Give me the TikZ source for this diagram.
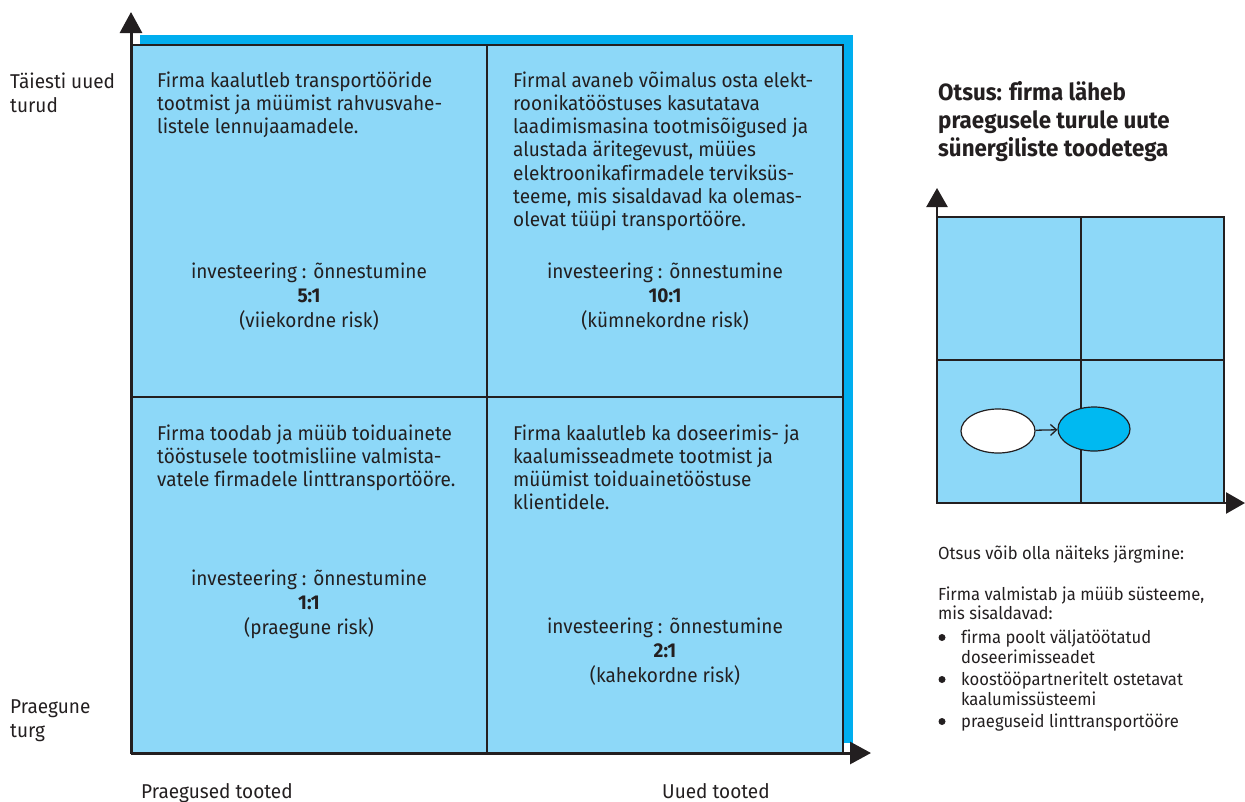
\documentclass[tikz,border=0pt]{standalone}
\usepackage{fontspec}
\setmainfont[FakeStretch=0.95,Ligatures=NoCommon]{Fira Sans}
\usetikzlibrary{arrows.meta,shapes.geometric}
\definecolor{lb}{HTML}{8DD8F8}
\definecolor{cy}{HTML}{00AEEF}
\definecolor{ell}{HTML}{00B9F1}
\definecolor{ink}{HTML}{231F20}
\begin{document}
\begin{tikzpicture}[x=1pt,y=-1pt,
  txt/.style={inner sep=0pt, text=ink, anchor=base west, align=left, font=\fontsize{20}{23.3}\selectfont},
  inv/.style={inner sep=0pt, text=ink, anchor=base, align=center, font=\fontsize{20}{24.5}\selectfont},
  lab/.style={inner sep=0pt, text=ink, anchor=base west, align=left, font=\fontsize{20}{24.5}\selectfont},
  small/.style={inner sep=0pt, text=ink, anchor=base west, align=left, font=\fontsize{17.5}{19}\selectfont},
  bigaxis/.style={draw=ink, line width=3pt, -{Triangle[length=21pt,width=22pt]}},
  smallaxis/.style={draw=ink, line width=2.5pt, -{Triangle[length=19pt,width=21pt]}},
  grid/.style={draw=ink, line width=1.5pt},
  dot/.style={fill=ink}
]
\useasboundingbox (0,0) rectangle (1245,801);
% ---------- main matrix ----------
\fill[cy] (140,35) rectangle (853,743);
\fill[lb] (131,45) rectangle (843,753);
\draw[grid, line width=2pt] (131,45) rectangle (843,753);
\draw[grid] (487,45) -- (487,753);
\draw[grid] (131,397) -- (843,397);
\coordinate (O) at (131,753);
\coordinate (Ytip) at (131,12);
\coordinate (Xtip) at (871,753);
\draw[bigaxis] (O) -- (Ytip);
\draw[bigaxis] (O) -- (Xtip);

\node[txt] (t11) at (157,133.6) {Firma kaalutleb transportööride\\tootmist ja müümist rahvusvahe-\\listele lennujaamadele.};
\node[txt] (t12) at (513,226.8) {Firmal avaneb võimalus osta elekt-\\roonikatööstuses kasutatava\\laadimismasina tootmisõigused ja\\alustada äritegevust, müües\\elektroonikafirmadele terviksüs-\\teeme, mis sisaldavad ka olemas-\\olevat tüüpi transportööre.};
\node[txt] (t21) at (157,486.6) {Firma toodab ja müüb toiduainete\\tööstusele tootmisliine valmista-\\vatele firmadele linttransportööre.};
\node[txt] (t22) at (513,509.9) {Firma kaalutleb ka doseerimis- ja\\kaalumisseadmete tootmist ja\\müümist toiduainetööstuse\\klientidele.};

\node[inv] (i11) at (309,327) {investeering : õnnestumine\\\textbf{5:1}\\(viiekordne risk)};
\node[inv] (i12) at (665,327) {investeering : õnnestumine\\\textbf{10:1}\\(kümnekordne risk)};
\node[inv] (i21) at (309,634) {investeering : õnnestumine\\\textbf{1:1}\\(praegune risk)};
\node[inv] (i22) at (665,682) {investeering : õnnestumine\\\textbf{2:1}\\(kahekordne risk)};

\node[lab] (ly1) at (10,112.5) {Täiesti uued\\turud};
\node[lab] (ly2) at (10,737.5) {Praegune\\turg};
\node[lab] (lx1) at (141,798) {Praegused tooted};
\node[lab] (lx2) at (662,798) {Uued tooted};

% ---------- right side ----------
\node[inner sep=0pt, text=ink, anchor=base west, align=left, font=\fontsize{23.5}{28}\selectfont\bfseries] (title) at (938,156) {Otsus: firma läheb\\praegusele turule uute\\sünergiliste toodetega};

\fill[lb] (937,217) rectangle (1224,503);
\draw[grid, line width=2pt] (937,217) rectangle (1224,503);
\draw[grid] (1081,217) -- (1081,503);
\draw[grid] (937,360) -- (1224,360);
\coordinate (o2) at (937,503);
\coordinate (y2) at (937,188);
\coordinate (x2) at (1245,503);
\draw[smallaxis] (o2) -- (y2);
\draw[smallaxis] (o2) -- (x2);

\node[ellipse, draw=ink, line width=1.2pt, fill=white, minimum width=74pt, minimum height=44pt, inner sep=0pt] (e1) at (998,431) {};
\node[ellipse, draw=ink, line width=1.2pt, fill=ell, minimum width=72pt, minimum height=44pt, inner sep=0pt] (e2) at (1094,429) {};
\draw[draw=ink, line width=1.3pt, -{Straight Barb[length=6pt,width=11pt]}] (e1) -- (e2);

\node[small] (s1) at (938,559) {Otsus võib olla näiteks järgmine:};
\node[small] (s2) at (938,619) {Firma valmistab ja müüb süsteeme,\\mis sisaldavad:};
\node[small, font=\fontsize{17.5}{20}\selectfont] (b1) at (961,663) {firma poolt väljatöötatud\\doseerimisseadet};
\node[small, font=\fontsize{17.5}{20}\selectfont] (b2) at (961,705) {koostööpartneritelt ostetavat\\kaalumissüsteemi};
\node[small] (b3) at (961,727) {praeguseid linttransportööre};
\fill[dot] (942,637.5) circle (3.5pt);
\fill[dot] (942,679.5) circle (3.5pt);
\fill[dot] (942,721.5) circle (3.5pt);
\end{tikzpicture}
\end{document}
